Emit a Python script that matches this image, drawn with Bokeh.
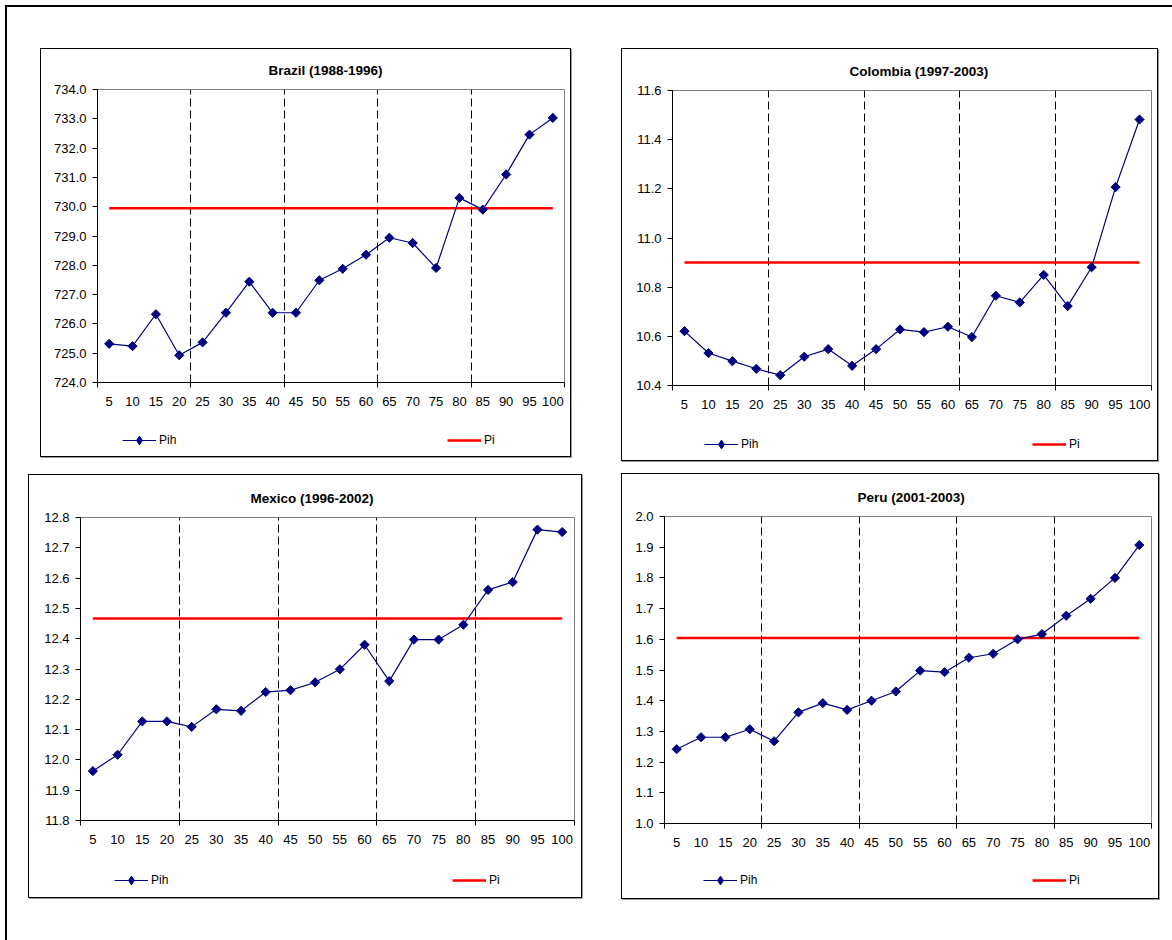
import math

from bokeh.embed import file_html
from bokeh.layouts import column, row
from bokeh.models import (FixedTicker, Legend, LegendItem, PrintfTickFormatter,
                          Range1d, Spacer)
from bokeh.plotting import figure
from bokeh.resources import INLINE

# Percentile groups on the horizontal axis
percentiles = [5, 10, 15, 20, 25, 30, 35, 40, 45, 50,
               55, 60, 65, 70, 75, 80, 85, 90, 95, 100]

# Brazil (1988-1996)
brazil_pih = [725.32, 725.24, 726.33, 724.93, 725.37, 726.38, 727.44, 726.38, 726.38, 727.49,
              727.88, 728.36, 728.94, 728.76, 727.91, 730.30, 729.90, 731.10, 732.46, 733.03]
brazil_pi = 729.95
brazil_ticks = [724.0, 725.0, 726.0, 727.0, 728.0, 729.0, 730.0, 731.0, 732.0, 733.0, 734.0]

# Colombia (1997-2003)
colombia_pih = [10.621, 10.532, 10.499, 10.468, 10.442, 10.517, 10.548, 10.480, 10.548, 10.628,
                10.617, 10.639, 10.597, 10.765, 10.738, 10.850, 10.723, 10.881, 11.207, 11.482]
colombia_pi = 10.900
colombia_ticks = [10.4, 10.6, 10.8, 11.0, 11.2, 11.4, 11.6]

# Mexico (1996-2002)
mexico_pih = [11.963, 12.017, 12.127, 12.127, 12.109, 12.167, 12.162, 12.224, 12.230, 12.256,
              12.299, 12.380, 12.260, 12.397, 12.397, 12.446, 12.561, 12.587, 12.760, 12.752]
mexico_pi = 12.467
mexico_ticks = [11.8, 11.9, 12.0, 12.1, 12.2, 12.3, 12.4, 12.5, 12.6, 12.7, 12.8]

# Peru (2001-2003)
peru_pih = [1.242, 1.281, 1.281, 1.307, 1.268, 1.362, 1.392, 1.370, 1.400, 1.430,
            1.498, 1.493, 1.540, 1.553, 1.600, 1.617, 1.677, 1.732, 1.800, 1.907]
peru_pi = 1.604
peru_ticks = [1.0, 1.1, 1.2, 1.3, 1.4, 1.5, 1.6, 1.7, 1.8, 1.9, 2.0]

# Category boundaries every four groups (dashed guides and axis tick marks)
group_edges = [22.5, 42.5, 62.5, 82.5]
axis_edges = [2.5, 22.5, 42.5, 62.5, 82.5, 102.5]

FONT = "Liberation Sans"
NAVY = "#000080"
RED = "#FF0000"

PIH_LINE = dict(line_color=NAVY, line_width=1.2)
PIH_MARK = dict(marker="square", angle=math.pi / 4, size=6.5, fill_color=NAVY, line_color=NAVY)
PIH_KEY_MARK = dict(marker="diamond", fill_color=NAVY, line_color=NAVY)
PI_LINE = dict(line_color=RED, line_width=2.5)

KEY_H = 22


def chart(title, pih, pi, yticks, width, height, borders, title_offset):
    b_left, b_right, b_top, b_bottom = borders
    p = figure(width=width, height=height,
               x_range=Range1d(2.5, 102.5),
               y_range=Range1d(yticks[0], yticks[-1]),
               output_backend="svg", toolbar_location=None,
               min_border_left=b_left, min_border_right=b_right,
               min_border_top=b_top, min_border_bottom=b_bottom,
               background_fill_color="white", border_fill_color="white",
               outline_line_color="#808080", outline_line_width=1)

    p.title.text = title
    p.title.align = "left"
    p.title.offset = title_offset
    p.title.text_font = FONT
    p.title.text_font_size = "13.5px"
    p.title.text_font_style = "bold"
    p.title.text_color = "black"
    p.title.standoff = 23

    # horizontal axis: labels at group centres, tick marks at every fourth edge
    xa = p.xaxis[0]
    xa.ticker = FixedTicker(ticks=percentiles, minor_ticks=axis_edges)
    xa.major_tick_in = 0
    xa.major_tick_out = 0
    xa.minor_tick_in = 0
    xa.minor_tick_out = 5
    xa.minor_tick_line_color = "black"
    xa.axis_line_color = "black"
    xa.major_label_standoff = 9
    xa.major_label_text_font = FONT
    xa.major_label_text_font_size = "13px"
    xa.major_label_text_color = "black"

    ya = p.yaxis[0]
    ya.ticker = FixedTicker(ticks=yticks)
    ya.formatter = PrintfTickFormatter(format="%.1f")
    ya.major_tick_in = 0
    ya.major_tick_out = 5
    ya.minor_tick_line_color = None
    ya.axis_line_color = "black"
    ya.major_tick_line_color = "black"
    ya.major_label_standoff = 6
    ya.major_label_text_font = FONT
    ya.major_label_text_font_size = "13px"
    ya.major_label_text_color = "black"

    p.ygrid.grid_line_color = None
    p.xgrid.ticker = FixedTicker(ticks=group_edges)
    p.xgrid.grid_line_color = "black"
    p.xgrid.grid_line_dash = "8 4"
    p.xgrid.grid_line_width = 1

    p.line([percentiles[0], percentiles[-1]], [pi, pi], **PI_LINE)
    p.line(percentiles, pih, **PIH_LINE)
    p.scatter(percentiles, pih, **PIH_MARK)
    return p


def key_strip(width, height, pih, pi, x_pih, x_pi, y_mid):
    """Strip under the chart holding the two series keys.

    Its ranges lie outside the data, so only the key samples are visible."""
    k = figure(width=width, height=height, x_range=Range1d(0, 1), y_range=Range1d(0, 1),
               output_backend="svg", toolbar_location=None,
               x_axis_location=None, y_axis_location=None,
               min_border=0, min_border_left=0, min_border_right=0,
               min_border_top=0, min_border_bottom=0,
               background_fill_color="white", border_fill_color="white",
               outline_line_color=None)
    k.grid.visible = False
    pih_line = k.line(percentiles, pih, **PIH_LINE)
    pih_mark = k.scatter(percentiles, pih, **PIH_KEY_MARK)
    pi_line = k.line([percentiles[0], percentiles[-1]], [pi, pi], **PI_LINE)
    common = dict(padding=0, margin=0, spacing=0, glyph_width=34, glyph_height=KEY_H,
                  label_height=KEY_H, label_standoff=3, label_text_font=FONT,
                  label_text_font_size="12px", label_text_color="black",
                  border_line_color=None, background_fill_alpha=0)
    vy = height - (y_mid + KEY_H / 2)
    k.add_layout(Legend(items=[LegendItem(label="Pih", renderers=[pih_line, pih_mark])],
                        location=(x_pih, vy), **common))
    k.add_layout(Legend(items=[LegendItem(label="Pi", renderers=[pi_line])],
                        location=(x_pi, vy), **common))
    return k


def panel(title, pih, pi, yticks, inner_w, chart_h, key_h, borders, title_offset, keys):
    c = chart(title, pih, pi, yticks, inner_w, chart_h, borders, title_offset)
    k = key_strip(inner_w, key_h, pih, pi, *keys)
    return column(c, k, styles={"border": "1px solid #000000",
                                "box-shadow": "1px 1px 0px #9a9a9a",
                                "box-sizing": "content-box",
                                "background-color": "white"})


# key positions are measured from the left edge of the chart's plotting area
brazil = panel("Brazil (1988-1996)", brazil_pih, brazil_pi, brazil_ticks,
               529, 376, 31, (56, 6, 40, 43), 171, (25, 350, 15))
colombia = panel("Colombia (1997-2003)", colombia_pih, colombia_pi, colombia_ticks,
                 535, 379, 32, (50, 6, 41, 43), 177, (32, 360, 16))
mexico = panel("Mexico (1996-2002)", mexico_pih, mexico_pi, mexico_ticks,
               552, 388, 34, (51, 7, 42, 43), 170, (34, 372, 17))
peru = panel("Peru (2001-2003)", peru_pih, peru_pi, peru_ticks,
             536, 392, 32, (42, 7, 42, 43), 193, (39, 368, 14))

page = column(
    Spacer(width=10, height=41),
    row(Spacer(width=33, height=10), brazil, Spacer(width=50, height=10), colombia),
    Spacer(width=10, height=12),
    row(Spacer(width=21, height=10), column(Spacer(width=10, height=1), mexico),
        Spacer(width=39, height=10), peru, Spacer(width=13, height=10)),
    Spacer(width=10, height=41),
    styles={"border-top": "2px solid #000000", "border-left": "2px solid #000000",
            "margin-left": "5px", "margin-top": "5px", "background-color": "white"},
)

open("out.html", "w").write(file_html(page, INLINE))
